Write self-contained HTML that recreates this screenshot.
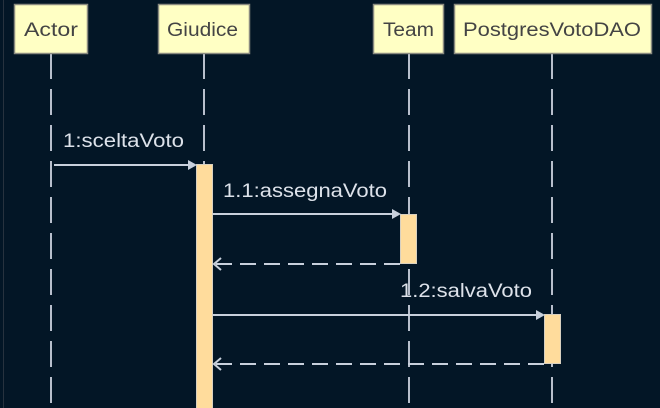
<!DOCTYPE html>
<html><head><meta charset="utf-8"><style>
html,body{margin:0;padding:0;background:#031626;}
svg{display:block;}
text{font-family:"Liberation Sans",sans-serif;}
</style></head><body>
<svg width="660" height="408" viewBox="0 0 660 408" xmlns="http://www.w3.org/2000/svg">
<rect width="660" height="408" fill="#031626"/>
<line x1="3.5" y1="0" x2="3.5" y2="408" stroke="#27323e" stroke-width="1"/>
<g stroke="#b8bfcc" stroke-width="2" stroke-dasharray="26 10" fill="none">
<line x1="51" y1="53" x2="51" y2="408"/>
<line x1="204" y1="53" x2="204" y2="408"/>
<line x1="409" y1="53" x2="409" y2="408"/>
<line x1="552" y1="53" x2="552" y2="408"/>
</g>
<g fill="#ffffc4" stroke="#8a8a80" stroke-width="1.5">
<rect x="14.5" y="4.5" width="73" height="49"/>
<rect x="158.5" y="4.5" width="91" height="49"/>
<rect x="373.5" y="4.5" width="70" height="49"/>
<rect x="454.5" y="4.5" width="197" height="49"/>
</g>
<g fill="#444444" font-size="19">
<text x="24" y="36" textLength="54" lengthAdjust="spacingAndGlyphs">Actor</text>
<text x="167" y="36" textLength="71" lengthAdjust="spacingAndGlyphs">Giudice</text>
<text x="383" y="36" textLength="51" lengthAdjust="spacingAndGlyphs">Team</text>
<text x="463" y="36" textLength="178" lengthAdjust="spacingAndGlyphs">PostgresVotoDAO</text>
</g>
<g fill="#ffdc9c" stroke="#d8d0c0" stroke-width="1">
<rect x="196.5" y="164.5" width="16" height="250"/>
<rect x="400.5" y="214.5" width="16" height="49"/>
<rect x="544.5" y="314.5" width="16" height="49"/>
</g>
<g stroke="#c8d0dc" stroke-width="2" fill="none">
<line x1="54" y1="165" x2="190" y2="165"/>
<line x1="213" y1="214" x2="394" y2="214"/>
<line x1="213" y1="315" x2="538" y2="315"/>
</g>
<g fill="#c8d0dc">
<polygon points="188,160 197,165 188,170"/>
<polygon points="392,209 401,214 392,219"/>
<polygon points="536,310 545,315 536,320"/>
</g>
<g stroke="#c8d0dc" stroke-width="2" fill="none">
<line x1="400" y1="264" x2="215" y2="264" stroke-dasharray="16 8"/>
<line x1="544" y1="364" x2="215" y2="364" stroke-dasharray="16 8"/>
<polyline points="221,258 214,264 221,270"/>
<polyline points="221,358 214,364 221,370"/>
</g>
<g fill="#dde2ea" font-size="19">
<text x="63" y="147" textLength="121" lengthAdjust="spacingAndGlyphs">1:sceltaVoto</text>
<text x="223" y="197" textLength="164" lengthAdjust="spacingAndGlyphs">1.1:assegnaVoto</text>
<text x="400" y="297" textLength="132" lengthAdjust="spacingAndGlyphs">1.2:salvaVoto</text>
</g>
</svg>
</body></html>
